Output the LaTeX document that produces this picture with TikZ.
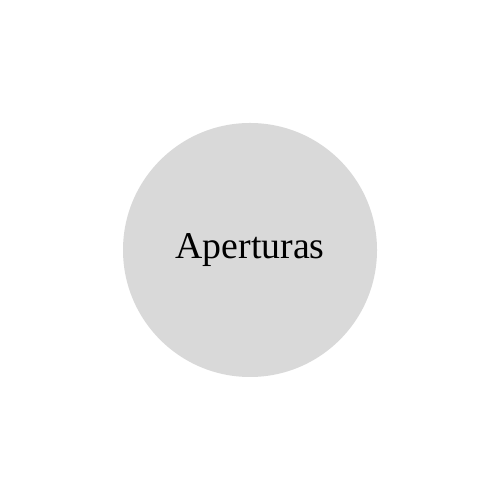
\documentclass[tikz,border=0pt]{standalone}
\usepackage{fontspec}
\setmainfont{Liberation Serif}
\usepackage{xcolor}
\definecolor{circgray}{HTML}{D9D9D9}

\begin{document}
\begin{tikzpicture}[x=1cm,y=1cm,every node/.style={font=\fontsize{21.5}{26}\selectfont}]
\useasboundingbox (0,0) rectangle (10,10);
\fill[white] (0,0) rectangle (10,10);
\node[circle,fill=circgray,minimum size=5.08cm,inner sep=0pt] (apert) at (5,5) {Aperturas};
\end{tikzpicture}
\end{document}
